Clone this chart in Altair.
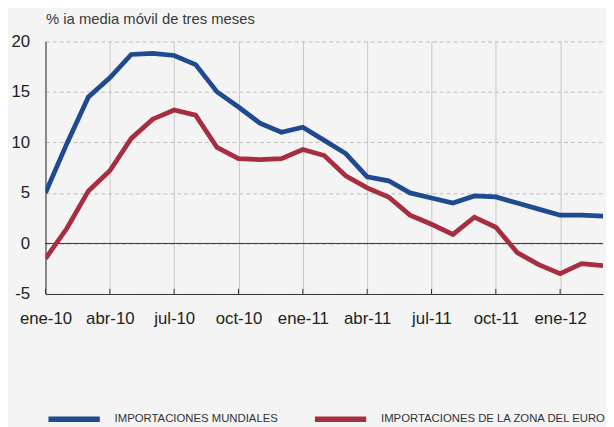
import altair as alt
import pandas as pd

months = ["ene-10", "feb-10", "mar-10", "abr-10", "may-10", "jun-10", "jul-10", "ago-10", "sep-10",
          "oct-10", "nov-10", "dic-10", "ene-11", "feb-11", "mar-11", "abr-11", "may-11", "jun-11",
          "jul-11", "ago-11", "sep-11", "oct-11", "nov-11", "dic-11", "ene-12", "feb-12", "mar-12"]

mundiales = [5.0, 9.9, 14.5, 16.4, 18.7, 18.8, 18.6, 17.7, 15.0, 13.5, 11.9, 11.0, 11.5, 10.2,
             8.9, 6.6, 6.2, 5.0, 4.5, 4.0, 4.7, 4.6, 4.0, 3.4, 2.8, 2.8, 2.7]
zona_euro = [-1.5, 1.5, 5.2, 7.2, 10.4, 12.3, 13.2, 12.7, 9.5, 8.4, 8.3, 8.4, 9.3, 8.7,
             6.7, 5.5, 4.6, 2.8, 1.9, 0.9, 2.6, 1.6, -0.9, -2.1, -3.0, -2.0, -2.2]

series_names = ["IMPORTACIONES MUNDIALES", "IMPORTACIONES DE LA ZONA DEL EURO"]
series_colors = ["#1f4a8f", "#a62e40"]

tick_labels = ["ene-10", "abr-10", "jul-10", "oct-10", "ene-11", "abr-11", "jul-11", "oct-11", "ene-12"]
tick_values = [0, 3, 6, 9, 12, 15, 18, 21, 24]
y_values = [-5, 0, 5, 10, 15, 20]

y_title = "% ia media móvil de tres meses"

rows = []
for i, m in enumerate(months):
    rows.append({"m": i, "mes": m, "v": mundiales[i], "serie": series_names[0]})
    rows.append({"m": i, "mes": m, "v": zona_euro[i], "serie": series_names[1]})
df = pd.DataFrame(rows)

label_arr = "[" + ",".join("'" + t + "'" for t in tick_labels) + "]"

xscale = alt.Scale(domain=[0, len(months) - 1], nice=False, zero=False)
yscale = alt.Scale(domain=[-5, 20], nice=False)

x_axis = alt.Axis(values=tick_values, labelExpr=label_arr + "[round(datum.value/3)]",
                  labelOverlap=False, labelFlush=False,
                  grid=True, gridColor="#c6c6c6", gridWidth=1, ticks=False,
                  domainColor="#333333", domainWidth=1, labelPadding=17,
                  labelFontSize=17, labelColor="#222222", labelFont="Liberation Sans", title=None)
y_axis = alt.Axis(values=y_values, labelExpr="toString(datum.value)", labelOverlap=False,
                  grid=True, gridColor="#bdbdbd", gridDash=[4, 3],
                  gridWidth=1, ticks=False, domainColor="#333333", domainWidth=1,
                  labelPadding=16, labelFontSize=17, labelColor="#222222", labelFont="Liberation Sans",
                  title=y_title, titleAngle=0, titleX=0, titleY=-18, titleAlign="left",
                  titleBaseline="alphabetic", titleFontSize=15, titleFontWeight="normal",
                  titleColor="#3a3a3a", titleFont="Liberation Sans")

lines = alt.Chart(df).mark_line(strokeWidth=4.8, strokeJoin="miter", clip=True).encode(
    x=alt.X("m:Q", scale=xscale, axis=x_axis),
    y=alt.Y("v:Q", scale=yscale, axis=y_axis),
    color=alt.Color("serie:N", scale=alt.Scale(domain=series_names, range=series_colors),
                    sort=series_names,
                    legend=alt.Legend(title=None, orient="none", direction="horizontal",
                                      legendX=0, legendY=354, symbolType="stroke",
                                      symbolSize=2704, symbolStrokeWidth=5.5,
                                      labelFont="Liberation Sans", labelFontSize=11.5,
                                      labelColor="#333333", labelOffset=12, columnPadding=26,
                                      labelLimit=400, padding=0)),
)

zero_df = pd.DataFrame({"v": [0]})
zero = alt.Chart(zero_df).mark_rule(color="#333333", strokeWidth=1).encode(
    y=alt.Y("v:Q", scale=yscale)
)

ticks_df = pd.DataFrame({"m": tick_values, "v": [-5] * len(tick_values), "v2": [-4.5] * len(tick_values)})
ticks = alt.Chart(ticks_df).mark_rule(color="#333333", strokeWidth=1).encode(
    x=alt.X("m:Q", scale=xscale),
    y=alt.Y("v:Q", scale=yscale),
    y2="v2:Q",
)

chart = alt.layer(zero, ticks, lines).properties(
    width=565, height=256,
    autosize=alt.AutoSizeParams(type="none"),
    padding={"left": 38, "top": 31, "right": 3, "bottom": 132},
    background="#f3f4f3",
).configure_view(stroke=None).configure_axis(labelFont="Liberation Sans")

chart.save("out.html", embed_options={"renderer": "svg", "actions": False})
